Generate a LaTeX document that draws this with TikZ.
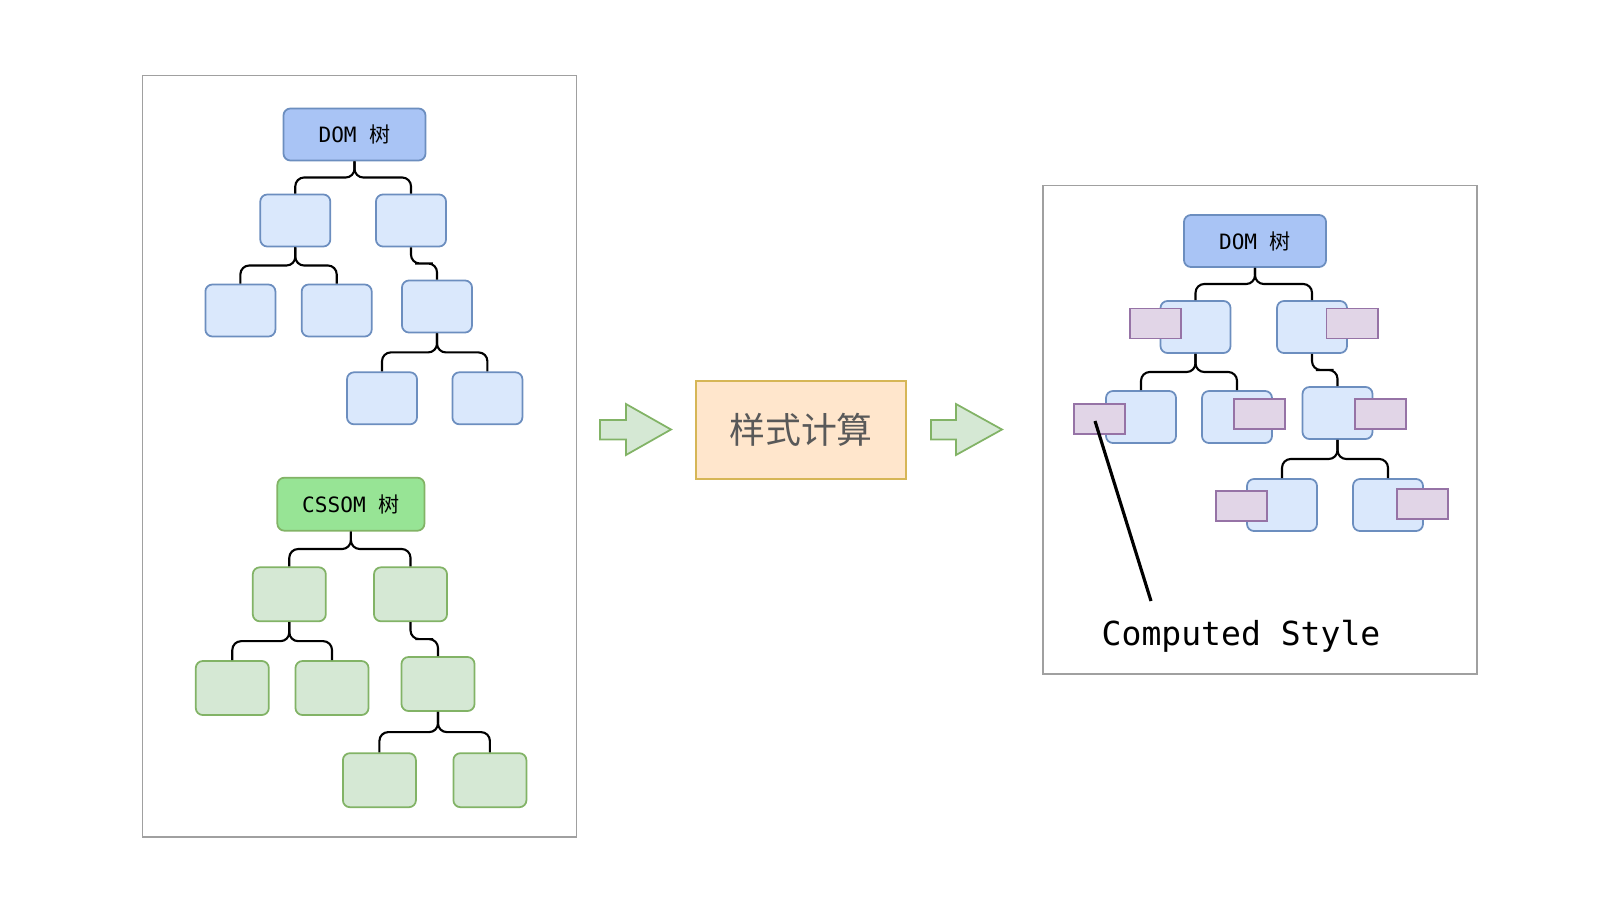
\documentclass[tikz,border=0pt]{standalone}
\usepackage{fontspec}
\setmonofont{DejaVu Sans Mono}
\newfontfamily\cjk{Noto Sans CJK SC}
\usetikzlibrary{calc}
\definecolor{domfill}{HTML}{A9C4F5}
\definecolor{domline}{HTML}{6C8EBF}
\definecolor{nodefill}{HTML}{DAE8FC}
\definecolor{cssfill}{HTML}{97E495}
\definecolor{cssline}{HTML}{82B366}
\definecolor{cssnode}{HTML}{D5E8D4}
\definecolor{stylefill}{HTML}{E1D5E7}
\definecolor{styleline}{HTML}{9673A6}
\definecolor{calcfill}{HTML}{FFE6CC}
\definecolor{calcline}{HTML}{D6B656}
\definecolor{framegray}{HTML}{A0A0A0}

\begin{document}
\begin{tikzpicture}[x=0.01cm,y=-0.01cm,
    frame/.style={draw=framegray,line width=0.5pt},
    box/.style={rounded corners=2pt,line width=0.5pt,inner sep=0pt},
    domroot/.style={box,draw=domline,fill=domfill,minimum width=1.42cm,minimum height=0.52cm,font=\ttfamily\fontsize{6}{7}\selectfont},
    cssroot/.style={box,draw=cssline,fill=cssfill,minimum width=1.47cm,minimum height=0.53cm,font=\ttfamily\fontsize{6}{7}\selectfont},
    domnode/.style={box,draw=domline,fill=nodefill,minimum width=0.70cm,minimum height=0.52cm},
    cssnode/.style={box,draw=cssline,fill=cssnode,minimum width=0.73cm,minimum height=0.54cm},
    tagbox/.style={draw=styleline,fill=stylefill,line width=0.55pt,minimum width=0.51cm,minimum height=0.30cm,inner sep=0pt},
    link/.style={draw=black,line width=0.6pt,rounded corners=2.5pt},
    flow/.style={draw=cssline,fill=cssnode,line width=0.5pt,line join=miter}]
    \useasboundingbox (0,0) rectangle (1597,897);

    % frames
    \draw[frame] (142.6,75.4) rectangle (576.5,837.2);
    \draw[frame] (1043,185.4) rectangle (1476.8,674.2);

    % DOM tree (left)
    \node[domroot] (dom) at (354.5,134.5) {DOM \cjk 树};
    \node[domnode] (d1) at (295.3,220.5) {};
    \node[domnode] (d2) at (411,220.5) {};
    \node[domnode] (d11) at (240.4,310.5) {};
    \node[domnode] (d12) at (336.7,310.5) {};
    \node[domnode] (d21) at (437,306.5) {};
    \node[domnode] (d211) at (382,398.3) {};
    \node[domnode] (d212) at (487.4,398.3) {};

    % CSSOM tree
    \node[cssroot] (css) at (350.9,504.2) {CSSOM \cjk 树};
    \node[cssnode] (c1) at (289.3,594.3) {};
    \node[cssnode] (c2) at (410.5,594.3) {};
    \node[cssnode] (c11) at (232.3,688) {};
    \node[cssnode] (c12) at (332,688) {};
    \node[cssnode] (c21) at (438,684) {};
    \node[cssnode] (c211) at (379.4,780.2) {};
    \node[cssnode] (c212) at (489.9,780.2) {};

    % DOM tree with computed styles (right)
    \node[domroot] (rdom) at (1255,241) {DOM \cjk 树};
    \node[domnode] (r1) at (1195.5,327) {};
    \node[domnode] (r2) at (1312,327) {};
    \node[domnode] (r11) at (1141,417) {};
    \node[domnode] (r12) at (1237,417) {};
    \node[domnode] (r21) at (1337.5,413) {};
    \node[domnode] (r211) at (1282,505) {};
    \node[domnode] (r212) at (1388,505) {};
    \node[tagbox] (p1) at (1155.5,323.5) {};
    \node[tagbox] (p2) at (1352,323.5) {};
    \node[tagbox] (p11) at (1099.5,419) {};
    \node[tagbox] (p12) at (1259.5,414) {};
    \node[tagbox] (p21) at (1380.5,414) {};
    \node[tagbox] (p211) at (1241.5,506) {};
    \node[tagbox] (p212) at (1422.5,504) {};

    \foreach \p/\c in {dom/d1,dom/d2,d1/d11,d1/d12,d2/d21,d21/d211,d21/d212,
                       css/c1,css/c2,c1/c11,c1/c12,c2/c21,c21/c211,c21/c212,
                       rdom/r1,rdom/r2,r1/r11,r1/r12,r2/r21,r21/r211,r21/r212}
        \draw[link] (\p.south) |- ($(\p.south)!.5!(\c.north)$) -| (\c.north);

    % style calculation step
    \node[draw=calcline,fill=calcfill,line width=0.6pt,minimum width=2.10cm,minimum height=0.98cm,inner sep=0pt,
          text=black!65,font=\cjk\fontsize{10.2}{12}\selectfont] (calc) at (801,430) {样式计算};
    \draw[flow] (600,420) -- (626,420) -- (626,404) -- (671,429.5) -- (626,455) -- (626,439.5) -- (600,439.5) -- cycle;
    \draw[flow] (931,420) -- (956,420) -- (956,404) -- (1002,429.5) -- (956,455) -- (956,439.5) -- (931,439.5) -- cycle;

    % label
    \node[font=\ttfamily\fontsize{9.4}{11}\selectfont] (cs) at (1241,636) {Computed Style};
    \coordinate (tip) at (1151,601);
    \draw[line width=0.9pt] ($(p11.center)+(-4.5,2)$) -- (tip);
\end{tikzpicture}
\end{document}
